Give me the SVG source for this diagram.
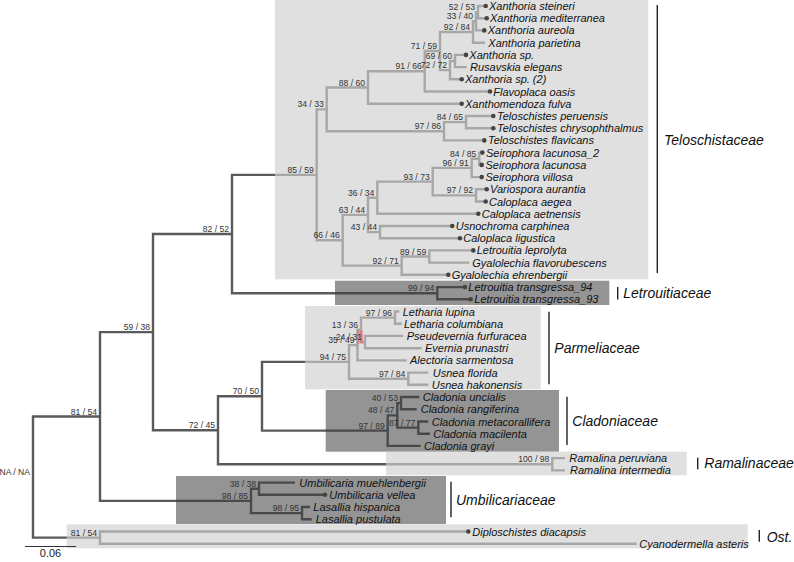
<svg xmlns="http://www.w3.org/2000/svg" width="794" height="562" viewBox="0 0 794 562">
<style>
.br{fill:none;stroke:#5a5a5a;stroke-width:2.4;stroke-linecap:butt;stroke-linejoin:miter}
.lbox{fill:rgb(208,208,208);fill-opacity:0.66}
.dbox{fill:rgb(60,60,60);fill-opacity:0.55}
.tip{font-family:"Liberation Sans",Arial,sans-serif;font-style:italic;font-size:11px;fill:#111}
.sup{font-family:"Liberation Sans",Arial,sans-serif;font-size:8.6px;fill:#333;text-anchor:end}
.fam{font-family:"Liberation Sans",Arial,sans-serif;font-style:italic;font-size:14px;fill:#111}
.bar{stroke:#222;stroke-width:1.4}
.dot{fill:#444}
</style>
<rect width="794" height="562" fill="#fff"/>
<g id="connectors">
<path class="br" d="M100,416.5 H33 V537.6 H100"/>
<path class="br" d="M153,332.15 H100 V500.9 H251"/>
<path class="br" d="M468.3,531.5 H100 V543.7 H636.7"/>
<path class="br" d="M232,234 H153 V430.3 H218"/>
<path class="br" d="M316.7,174.85 H232 V293.2 H437.3"/>
<path class="br" d="M326.7,109.4 H316.7 V240.3 H342.7"/>
<path class="br" d="M368,87.54 H326.7 V131.25 H444"/>
<path class="br" d="M424.7,71.28 H368 V103.8 H461.7"/>
<path class="br" d="M440,51.06 H424.7 V91.5 H490"/>
<path class="br" d="M473,31.97 H440 V70.15 H450"/>
<path class="br" d="M476,21.25 H473 V42.7 H485"/>
<path class="br" d="M478,12.1 H476 V30.4 H484.3"/>
<path class="br" d="M485.7,6 H478 V18.2 H486.7"/>
<path class="br" d="M455,61 H450 V79.3 H461.7"/>
<path class="br" d="M466,54.9 H455 V67.1 H466.7"/>
<path class="br" d="M466,122.1 H444 V140.4 H484.3"/>
<path class="br" d="M493.3,116 H466 V128.2 H493.3"/>
<path class="br" d="M368,214.9 H342.7 V265.65 H401.7"/>
<path class="br" d="M377.3,197.7 H368 V232.1 H380"/>
<path class="br" d="M432.7,181.67 H377.3 V213.7 H478.3"/>
<path class="br" d="M471.7,167.9 H432.7 V195.4 H476"/>
<path class="br" d="M479.3,158.75 H471.7 V177.1 H481.7"/>
<path class="br" d="M482.3,152.6 H479.3 V164.9 H481.7"/>
<path class="br" d="M486.7,189.3 H476 V201.5 H485.7"/>
<path class="br" d="M452.3,226 H380 V238.2 H460"/>
<path class="br" d="M429.3,256.5 H401.7 V274.8 H448.3"/>
<path class="br" d="M473.3,250.4 H429.3 V262.6 H469.3"/>
<path class="br" d="M465,287.1 H437.3 V299.3 H470.7"/>
<path class="br" d="M262,396.3 H218 V464.3 H552.3"/>
<path class="br" d="M349,361.9 H262 V430.65 H387.7"/>
<path class="br" d="M357.5,345.1 H349 V378.7 H408.3"/>
<path class="br" d="M361,329.8 H357.5 V360.4 H406.7"/>
<path class="br" d="M395,317.6 H361 V342.05 H365"/>
<path class="br" d="M399.3,311.5 H395 V323.7 H401.7"/>
<path class="br" d="M403.3,335.9 H365 V348.2 H421.7"/>
<path class="br" d="M428.3,372.6 H408.3 V384.8 H428.3"/>
<path class="br" d="M397.3,415.4 H387.7 V445.9 H420.7"/>
<path class="br" d="M401,403.15 H397.3 V427.6 H418.3"/>
<path class="br" d="M419.3,397 H401 V409.3 H416.7"/>
<path class="br" d="M428.3,421.5 H418.3 V433.7 H430"/>
<path class="br" d="M565,458.1 H552.3 V470.4 H565"/>
<path class="br" d="M259,488.7 H251 V513.1 H302"/>
<path class="br" d="M295,482.6 H259 V494.8 H325"/>
<path class="br" d="M310,507 H302 V519.2 H311.7"/>
</g>
<g id="boxes">
<rect id="box-teloschistaceae" class="lbox" x="275" y="0" width="373.3" height="279.3"/>
<rect id="box-letrouitiaceae" class="dbox" x="335" y="280.7" width="274.3" height="24.3"/>
<rect id="box-parmeliaceae" class="lbox" x="305" y="306" width="235.7" height="83.3"/>
<rect id="box-cladoniaceae" class="dbox" x="325.7" y="390" width="233.3" height="61.7"/>
<rect id="box-ramalinaceae" class="lbox" x="386" y="451.7" width="300.7" height="23.5"/>
<rect id="box-umbilicariaceae" class="dbox" x="176" y="476" width="270" height="48"/>
<rect id="box-ost" class="lbox" x="66.7" y="524.3" width="681" height="24"/>
<rect id="highlight" x="357" y="330.5" width="6" height="13" fill="#f06060" fill-opacity="0.5"/>
</g>
<g id="dots">
<circle class="dot" cx="485.7" cy="6" r="2.3"/>
<circle class="dot" cx="486.7" cy="18.2" r="2.3"/>
<circle class="dot" cx="484.3" cy="30.4" r="2.3"/>
<circle class="dot" cx="466" cy="54.9" r="2.3"/>
<circle class="dot" cx="461.7" cy="79.3" r="2.3"/>
<circle class="dot" cx="490" cy="91.5" r="2.3"/>
<circle class="dot" cx="461.7" cy="103.8" r="2.3"/>
<circle class="dot" cx="493.3" cy="116" r="2.3"/>
<circle class="dot" cx="493.3" cy="128.2" r="2.3"/>
<circle class="dot" cx="484.3" cy="140.4" r="2.3"/>
<circle class="dot" cx="482.3" cy="152.6" r="2.3"/>
<circle class="dot" cx="481.7" cy="164.9" r="2.3"/>
<circle class="dot" cx="481.7" cy="177.1" r="2.3"/>
<circle class="dot" cx="486.7" cy="189.3" r="2.3"/>
<circle class="dot" cx="485.7" cy="201.5" r="2.3"/>
<circle class="dot" cx="478.3" cy="213.7" r="2.3"/>
<circle class="dot" cx="452.3" cy="226" r="2.3"/>
<circle class="dot" cx="460" cy="238.2" r="2.3"/>
<circle class="dot" cx="473.3" cy="250.4" r="2.3"/>
<circle class="dot" cx="448.3" cy="274.8" r="2.3"/>
<circle class="dot" cx="465" cy="287.1" r="2.3"/>
<circle class="dot" cx="470.7" cy="299.3" r="2.3"/>
<circle class="dot" cx="325" cy="494.8" r="2.3"/>
<circle class="dot" cx="468.3" cy="531.5" r="2.3"/>
</g>
<g id="tips">
<text class="tip" x="489" y="10">Xanthoria steineri</text>
<text class="tip" x="490" y="22.2">Xanthoria mediterranea</text>
<text class="tip" x="487.7" y="34.4">Xanthoria aureola</text>
<text class="tip" x="488.3" y="46.7">Xanthoria parietina</text>
<text class="tip" x="469.3" y="58.9">Xanthoria sp.</text>
<text class="tip" x="470" y="71.1">Rusavskia elegans</text>
<text class="tip" x="465" y="83.3">Xanthoria sp. (2)</text>
<text class="tip" x="493.3" y="95.5">Flavoplaca oasis</text>
<text class="tip" x="465" y="107.8">Xanthomendoza fulva</text>
<text class="tip" x="497" y="120">Teloschistes peruensis</text>
<text class="tip" x="497" y="132.2">Teloschistes chrysophthalmus</text>
<text class="tip" x="488" y="144.4">Teloschistes flavicans</text>
<text class="tip" x="486" y="156.6">Seirophora lacunosa_2</text>
<text class="tip" x="485.5" y="168.9">Seirophora lacunosa</text>
<text class="tip" x="485.5" y="181.1">Seirophora villosa</text>
<text class="tip" x="490" y="193.3">Variospora aurantia</text>
<text class="tip" x="489" y="205.5">Caloplaca aegea</text>
<text class="tip" x="481.7" y="217.7">Caloplaca aetnensis</text>
<text class="tip" x="455.7" y="230">Usnochroma carphinea</text>
<text class="tip" x="463.3" y="242.2">Caloplaca ligustica</text>
<text class="tip" x="476.7" y="254.4">Letrouitia leprolyta</text>
<text class="tip" x="472.3" y="266.6">Gyalolechia flavorubescens</text>
<text class="tip" x="451.7" y="278.8">Gyalolechia ehrenbergii</text>
<text class="tip" x="468.3" y="291.1">Letrouitia transgressa_94</text>
<text class="tip" x="474.3" y="303.3">Letrouitia transgressa_93</text>
<text class="tip" x="402.7" y="315.5">Letharia lupina</text>
<text class="tip" x="404" y="327.7">Letharia columbiana</text>
<text class="tip" x="406.7" y="339.9">Pseudevernia furfuracea</text>
<text class="tip" x="425" y="352.2">Evernia prunastri</text>
<text class="tip" x="410" y="364.4">Alectoria sarmentosa</text>
<text class="tip" x="432.7" y="376.6">Usnea florida</text>
<text class="tip" x="431.7" y="388.8">Usnea hakonensis</text>
<text class="tip" x="422.7" y="401">Cladonia uncialis</text>
<text class="tip" x="420.7" y="413.3">Cladonia rangiferina</text>
<text class="tip" x="431.7" y="425.5">Cladonia metacorallifera</text>
<text class="tip" x="433.3" y="437.7">Cladonia macilenta</text>
<text class="tip" x="424" y="449.9">Cladonia grayi</text>
<text class="tip" x="569.3" y="462.1">Ramalina peruviana</text>
<text class="tip" x="570" y="474.4">Ramalina intermedia</text>
<text class="tip" x="299.3" y="486.6">Umbilicaria muehlenbergii</text>
<text class="tip" x="329.3" y="498.8">Umbilicaria vellea</text>
<text class="tip" x="313.3" y="511">Lasallia hispanica</text>
<text class="tip" x="315.7" y="523.2">Lasallia pustulata</text>
<text class="tip" x="472.3" y="535.5">Diploschistes diacapsis</text>
<text class="tip" x="639.3" y="547.7">Cyanodermella asteris</text>
</g>
<g id="support">
<text class="sup" x="30" y="475">NA / NA</text>
<text class="sup" x="97" y="414.5">81 / 54</text>
<text class="sup" x="97" y="535.6">81 / 54</text>
<text class="sup" x="150" y="330">59 / 38</text>
<text class="sup" x="229" y="232">82 / 52</text>
<text class="sup" x="313.7" y="172.8">85 / 59</text>
<text class="sup" x="323.7" y="107.4">34 / 33</text>
<text class="sup" x="365" y="85.5">88 / 60</text>
<text class="sup" x="421.7" y="69.3">91 / 66</text>
<text class="sup" x="437" y="49">71 / 59</text>
<text class="sup" x="470" y="30">92 / 84</text>
<text class="sup" x="473" y="19.2">33 / 40</text>
<text class="sup" x="475" y="10.1">52 / 53</text>
<text class="sup" x="447" y="68.1">72 / 72</text>
<text class="sup" x="452" y="59">69 / 60</text>
<text class="sup" x="441" y="129.2">97 / 86</text>
<text class="sup" x="463" y="120.1">84 / 65</text>
<text class="sup" x="339.7" y="238.3">66 / 46</text>
<text class="sup" x="365" y="212.9">63 / 44</text>
<text class="sup" x="374.3" y="195.7">36 / 34</text>
<text class="sup" x="429.7" y="179.7">93 / 73</text>
<text class="sup" x="468.7" y="165.9">96 / 91</text>
<text class="sup" x="476.3" y="156.7">84 / 85</text>
<text class="sup" x="473" y="193.4">97 / 92</text>
<text class="sup" x="377" y="230.1">43 / 44</text>
<text class="sup" x="398.7" y="263.6">92 / 71</text>
<text class="sup" x="426.3" y="254.5">89 / 59</text>
<text class="sup" x="434.3" y="291.2">99 / 94</text>
<text class="sup" x="215" y="428.3">72 / 45</text>
<text class="sup" x="259" y="394.3">70 / 50</text>
<text class="sup" x="346" y="359.9">94 / 75</text>
<text class="sup" x="354.5" y="343.1">35 / 49</text>
<text class="sup" x="358" y="327.8">13 / 36</text>
<text class="sup" x="392" y="315.6">97 / 96</text>
<text class="sup" x="362" y="340">24 / 31</text>
<text class="sup" x="405.3" y="376.7">97 / 84</text>
<text class="sup" x="384.7" y="428.6">97 / 89</text>
<text class="sup" x="394.3" y="413.4">48 / 47</text>
<text class="sup" x="398" y="401.1">40 / 53</text>
<text class="sup" x="415.3" y="425.6">87 / 77</text>
<text class="sup" x="549.3" y="462.3">100 / 98</text>
<text class="sup" x="248" y="498.9">98 / 85</text>
<text class="sup" x="256" y="486.7">38 / 38</text>
<text class="sup" x="299" y="511.1">98 / 95</text>
</g>
<g id="families">
<g id="fam-teloschistaceae"><line class="bar" x1="657.3" y1="5" x2="657.3" y2="273"/><text class="fam" x="664" y="145">Teloschistaceae</text></g>
<g id="fam-letrouitiaceae"><line class="bar" x1="617.7" y1="287" x2="617.7" y2="299.5"/><text class="fam" x="623.3" y="298.3">Letrouitiaceae</text></g>
<g id="fam-parmeliaceae"><line class="bar" x1="549" y1="311.7" x2="549" y2="384.3"/><text class="fam" x="554.3" y="353.3">Parmeliaceae</text></g>
<g id="fam-cladoniaceae"><line class="bar" x1="567" y1="396.7" x2="567" y2="445"/><text class="fam" x="572.3" y="425.7">Cladoniaceae</text></g>
<g id="fam-ramalinaceae"><line class="bar" x1="697.7" y1="457.7" x2="697.7" y2="469.3"/><text class="fam" x="704.3" y="468.3">Ramalinaceae</text></g>
<g id="fam-umbilicariaceae"><line class="bar" x1="451" y1="481.7" x2="451" y2="517.3"/><text class="fam" x="456" y="505">Umbilicariaceae</text></g>
<g id="fam-ost"><line class="bar" x1="759.3" y1="530" x2="759.3" y2="541.7"/><text class="fam" x="766.7" y="541.7">Ost.</text></g>
</g>
<g id="scale">
<line x1="25" y1="546.5" x2="76" y2="546.5" stroke="#333" stroke-width="1"/>
<text x="50.5" y="557" font-family="Liberation Sans, Arial, sans-serif" font-size="11" fill="#222" text-anchor="middle">0.06</text>
</g>
</svg>
